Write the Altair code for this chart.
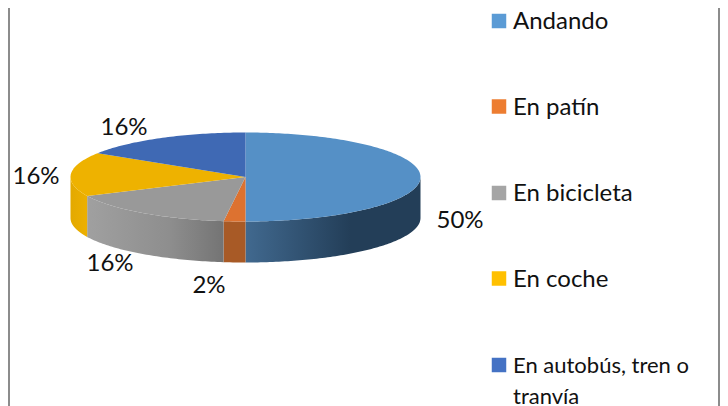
import math
import altair as alt
import pandas as pd

# chart values
categories = ["Andando", "En patín", "En bicicleta", "En coche", "En autobús, tren o\ntranvía"]
shares = [50, 2, 16, 16, 16]
legend_colors = ["#5B9BD5", "#ED7D31", "#A5A5A5", "#FFC000", "#4472C4"]
top_colors = ["#5590C6", "#DD7230", "#999999", "#EEB200", "#3F69B4"]
wall_stops = [
    [("#41698F", 0), ("#233E58", 0.6), ("#233E58", 1)],
    [("#A85A26", 0), ("#A85A26", 1)],
    [("#A0A0A0", 0), ("#8E8E8E", 0.6), ("#747474", 1)],
    [("#E3A900", 0), ("#EDB000", 1)],
]

# layout of the tilted pie and its key, in picture units
CX, CY, RX, RY, DEPTH = 245.5, 177.0, 175.0, 44.5, 41.0
FONT = "Lato"
label_pos = [(460, 221), (209, 286), (110, 264), (36, 177), (124, 128)]
key_y = [21, 106.5, 193, 278.5, 365]
key_font = [24, 24, 24, 24, 22]
CHART_W, CHART_H = 712, 398


def rim(frac):
    a = 2 * math.pi * frac
    return CX + RX * math.sin(a), CY - RY * math.cos(a)


def sweep(f0, f1):
    n = max(2, int(abs(f1 - f0) * 360))
    return [f0 + (f1 - f0) * i / n for i in range(n + 1)]


x_scale = alt.Scale(domain=[8, 8 + CHART_W], range=[0, CHART_W], nice=False, zero=False)
y_scale = alt.Scale(domain=[8, 8 + CHART_H], range=[0, CHART_H], nice=False, zero=False)
X = alt.X("x:Q", scale=x_scale, axis=None)
Y = alt.Y("y:Q", scale=y_scale, axis=None)


def polygon(points, fill):
    df = pd.DataFrame([{"x": p[0], "y": p[1], "i": i} for i, p in enumerate(points)])
    return alt.Chart(df).mark_line(fill=fill, strokeWidth=0, interpolate="linear-closed").encode(
        x=X, y=Y, order="i:Q"
    )


layers = []
total = sum(shares)
starts = [sum(shares[:i]) / total for i in range(len(shares))]
ends = [sum(shares[:i + 1]) / total for i in range(len(shares))]

# side walls (visible from 25 % to 75 % of the turn)
for i, stops in enumerate(wall_stops):
    a, b = max(starts[i], 0.25), min(ends[i], 0.75)
    top = [rim(f) for f in sweep(a, b)]
    bottom = [(x, y + DEPTH) for x, y in reversed(top)]
    grad = alt.LinearGradient(
        gradient="linear", x1=0, x2=1, y1=0, y2=0,
        stops=[alt.GradientStop(color=c, offset=o) for c, o in stops],
    )
    layers.append(polygon(top + bottom, grad))

# top faces
for i, color in enumerate(top_colors):
    pts = [(CX, CY)] + [rim(f) for f in sweep(starts[i], ends[i])]
    layers.append(polygon(pts, color))

# window frame
frame = pd.DataFrame({"x": [8, 718], "x2": [10, 720], "y": [8, 8], "y2": [8 + CHART_H] * 2})
layers.append(
    alt.Chart(frame).mark_rect(color="#8C8C8C").encode(x=X, x2="x2:Q", y=Y, y2="y2:Q")
)

# percentage labels
labels = pd.DataFrame({
    "x": [p[0] for p in label_pos],
    "y": [p[1] for p in label_pos],
    "t": [f"{v}%" for v in shares],
})
layers.append(
    alt.Chart(labels).mark_text(font=FONT, fontSize=24, color="#111111").encode(x=X, y=Y, text="t:N")
)

# key
key = pd.DataFrame({"cat": categories, "y": key_y, "x": [499] * 5, "tx": [513] * 5, "fs": key_font})
layers.append(
    alt.Chart(key).mark_square(size=210, opacity=1).encode(
        x=X, y=Y,
        color=alt.Color("cat:N", scale=alt.Scale(domain=categories, range=legend_colors), legend=None),
    )
)
layers.append(
    alt.Chart(key).mark_text(
        font=FONT, color="#111111", align="left", baseline="alphabetic",
        lineBreak="\n", lineHeight=31, dy=8,
    ).encode(
        x=alt.X("tx:Q", scale=x_scale, axis=None), y=Y, text="cat:N",
        size=alt.Size("fs:Q", scale=None, legend=None),
    )
)

chart = alt.layer(*layers).properties(
    width=CHART_W, height=CHART_H, padding=0, autosize=alt.AutoSizeParams(type="none"), background="white"
).configure_view(stroke=None)

chart.save("out.html", embed_options={"renderer": "svg", "actions": False})
